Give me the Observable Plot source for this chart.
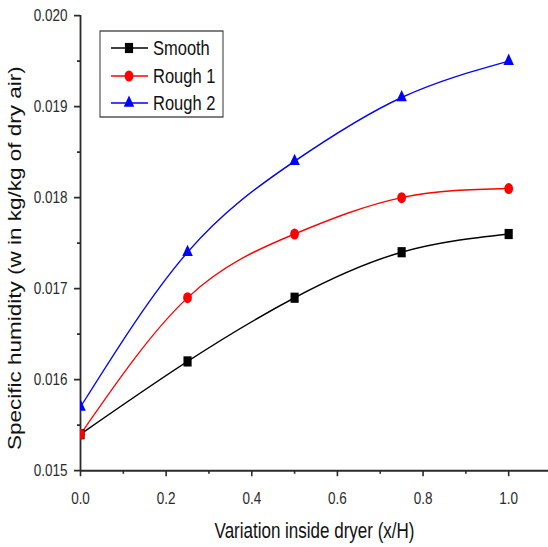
<!DOCTYPE html>
<html>
<head>
<meta charset="utf-8">
<script src="https://cdn.jsdelivr.net/npm/d3@7"></script>
<script src="https://cdn.jsdelivr.net/npm/@observablehq/plot@0.6"></script>
<style>
  html, body { margin: 0; padding: 0; background: #fff; }
  #chart svg { display: block; }
</style>
</head>
<body>
<div id="chart"></div>
<script>
// Measurement positions along the dryer (x/H)
const positions = [0, 0.25, 0.5, 0.75, 1.0];

// Specific humidity (kg/kg of dry air) for each absorber plate
const smooth = [0.0154, 0.0162, 0.0169, 0.0174, 0.0176];
const rough1 = [0.0154, 0.0169, 0.0176, 0.0180, 0.0181];
const rough2 = [0.0157, 0.0174, 0.0184, 0.0191, 0.0195];

const seriesNames = ["Smooth", "Rough 1", "Rough 2"];
const seriesColors = ["#000000", "#ff0000", "#0000ff"];
const seriesSymbols = ["square", "circle", "triangle"];
const seriesRadius = [4.6, 4.4, 3.9];

const yTicks = [0.015, 0.016, 0.017, 0.018, 0.019, 0.020];
const yMinorTicks = [0.0155, 0.0165, 0.0175, 0.0185, 0.0195];
const xTicks = [0, 0.2, 0.4, 0.6, 0.8, 1.0];
const xMinorTicks = [0.1, 0.3, 0.5, 0.7, 0.9];

const xLabel = "Variation inside dryer (x/H)";
const yLabel = "Specific humidity (w in kg/kg of dry air)";

const seriesValues = [smooth, rough1, rough2];
const rows = seriesNames.flatMap((name, s) =>
  positions.map((x, i) => ({x, y: seriesValues[s][i], series: name}))
);

// The figure is drawn in a shorter coordinate space and stretched vertically
const W = 548, H = 547, stretch = 1.25;
const plotH = H / stretch;

const axisColor = "#2a2a2a";
const font = "'Liberation Sans', Arial, Helvetica, sans-serif";

const marks = [
  Plot.ruleY([0.015], {stroke: axisColor, strokeWidth: 1.6}),
  Plot.ruleX([0], {stroke: axisColor, strokeWidth: 1.8}),
  Plot.axisY({ticks: yTicks, tickSize: 6, tickPadding: 7, tickFormat: d3.format(".3f"),
    fontSize: 13.5, label: null, color: axisColor, strokeWidth: 1.4}),
  Plot.axisY({ticks: yMinorTicks, tickSize: 3, tickFormat: () => "", label: null,
    color: axisColor, strokeWidth: 1.4}),
  Plot.axisX({ticks: xTicks, tickSize: 5, tickPadding: 12, tickFormat: d3.format(".1f"),
    fontSize: 13.5, label: null, color: axisColor, strokeWidth: 1.6}),
  Plot.axisX({ticks: xMinorTicks, tickSize: 3, tickFormat: () => "", label: null,
    color: axisColor, strokeWidth: 1.6}),
  Plot.text([xLabel], {frameAnchor: "bottom", dy: 54, text: d => d, fontSize: 17, fill: "#111"}),
  Plot.text([yLabel], {frameAnchor: "left", textAnchor: "middle", dx: -65, dy: 12, rotate: -90,
    text: d => d, fontSize: 18, fill: "#111"})
];

seriesNames.forEach((name, s) => {
  const data = rows.filter(d => d.series === name);
  marks.push(Plot.line(data, {x: "x", y: "y", curve: "natural", stroke: seriesColors[s],
    strokeWidth: 1.2, clip: true}));
});
seriesNames.forEach((name, s) => {
  const data = rows.filter(d => d.series === name);
  marks.push(Plot.dot(data, {x: "x", y: "y", symbol: seriesSymbols[s], r: seriesRadius[s],
    fill: seriesColors[s], stroke: "none", clip: true}));
});

const chart = Plot.plot({
  width: W,
  height: plotH,
  marginLeft: 80,
  marginRight: 0,
  marginTop: 12,
  marginBottom: plotH - 376,
  x: {domain: [0, 1.093]},
  y: {domain: [0.015, 0.020]},
  style: {fontFamily: font, background: "#fff", overflow: "visible"},
  marks
});

// Legend box with a line sample, marker and name for each series
const svg = d3.select(chart);
const legend = svg.append("g").attr("font-family", font).attr("text-anchor", "start");
legend.append("rect")
  .attr("x", 100).attr("y", 24.8).attr("width", 123).attr("height", 68.8)
  .attr("fill", "#fff").attr("stroke", "#333").attr("stroke-width", 1);
const rowY = [38.4, 60.8, 82.4];
seriesNames.forEach((name, s) => {
  const g = legend.append("g");
  g.append("line")
    .attr("x1", 111).attr("x2", 148).attr("y1", rowY[s]).attr("y2", rowY[s])
    .attr("stroke", seriesColors[s]).attr("stroke-width", 1.2);
  const sym = {square: d3.symbolSquare, circle: d3.symbolCircle, triangle: d3.symbolTriangle}[seriesSymbols[s]];
  g.append("path")
    .attr("d", d3.symbol(sym, Math.PI * seriesRadius[s] * seriesRadius[s])())
    .attr("transform", `translate(129,${rowY[s]})`)
    .attr("fill", seriesColors[s]);
  g.append("text")
    .attr("x", 153).attr("y", rowY[s]).attr("dy", "0.36em")
    .attr("text-anchor", "start")
    .attr("font-size", 16.5).attr("fill", "#111")
    .text(name);
});

chart.setAttribute("height", H);
chart.setAttribute("preserveAspectRatio", "none");
chart.style.height = H + "px";
chart.style.width = W + "px";
chart.style.maxWidth = "none";

document.getElementById("chart").appendChild(chart);
</script>
</body>
</html>
